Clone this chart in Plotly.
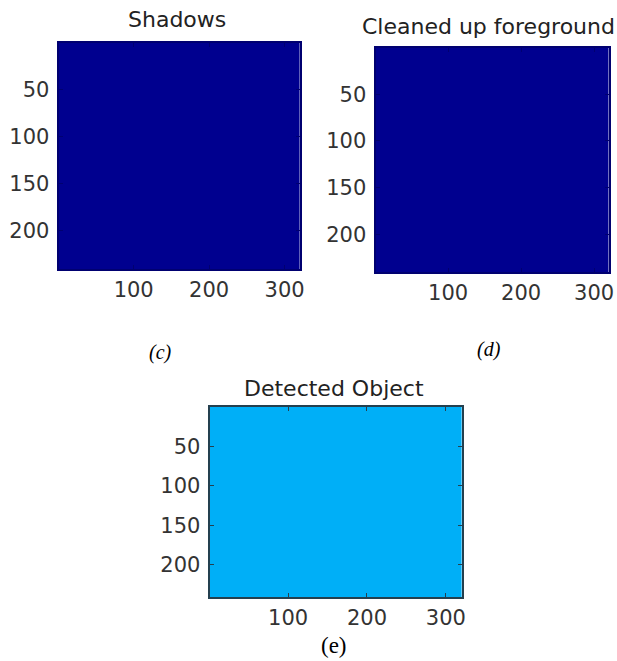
import plotly.graph_objects as go

# image size (pixels) shown in each panel
IMAGE_WIDTH = 320
IMAGE_HEIGHT = 240

# panel titles and the constant value of each mask
panel_titles = ["Shadows", "Cleaned up foreground", "Detected Object"]
panel_values = [0.0, 0.0, 0.36]
panel_labels = ["<i>(c)</i>", "<i>(d)</i>", "(e)"]

x_ticks = [100, 200, 300]
y_ticks = [50, 100, 150, 200]

# jet-like colour scale (MATLAB default)
JET = [
    [0.0, "#00008F"], [0.125, "#0000FF"], [0.375, "#00BAF6"],
    [0.625, "#FFFF00"], [0.875, "#FF0000"], [1.0, "#800000"],
]

W, H = 617, 661


def px_domain(x0, x1, y0, y1):
    """Pixel box -> paper domains."""
    return [x0 / W, x1 / W], [1 - y1 / H, 1 - y0 / H]


def px_point(x, y):
    return x / W, 1 - y / H


boxes = [(59, 302, 43, 269), (378, 613, 48, 272), (211, 465, 407, 597)]
frame_colors = ["#000070", "#000070", "#24404f"]
title_pos = [(178, 20), (492, 26), (336, 388)]
label_pos = [(162, 352), (492, 350), (336, 645)]

fig = go.Figure()
tick_font = dict(family="DejaVu Sans", size=21, color="#333333")

for i, title in enumerate(panel_titles):
    suffix = "" if i == 0 else str(i + 1)
    xd, yd = px_domain(*boxes[i])
    fig.add_trace(go.Heatmap(
        z=[[panel_values[i]]],
        x=[0.5, IMAGE_WIDTH + 0.5],
        y=[0.5, IMAGE_HEIGHT + 0.5],
        colorscale=JET, zmin=0, zmax=1, showscale=False, zsmooth="fast",
        xaxis="x" + suffix, yaxis="y" + suffix,
    ))
    axis_common = dict(
        showline=True, linecolor=frame_colors[i], linewidth=2, mirror="allticks",
        ticks="inside", ticklen=4, tickcolor=frame_colors[i],
        showgrid=False, zeroline=False, tickfont=tick_font, fixedrange=True,
    )
    fig.layout["xaxis" + suffix] = dict(
        domain=xd, range=[0.5, IMAGE_WIDTH + 0.5], tickvals=x_ticks,
        anchor="y" + suffix, ticklabelstandoff=1, **axis_common,
    )
    fig.layout["yaxis" + suffix] = dict(
        domain=yd, range=[IMAGE_HEIGHT + 0.5, 0.5], tickvals=y_ticks,
        anchor="x" + suffix, ticklabelstandoff=3, **axis_common,
    )
    tx, ty = px_point(*title_pos[i])
    fig.add_annotation(
        text=title, x=tx, y=ty, xref="paper", yref="paper",
        xanchor="center", yanchor="middle", showarrow=False,
        font=dict(family="DejaVu Sans", size=22, color="#222222"),
    )
    lx, ly = px_point(*label_pos[i])
    fig.add_annotation(
        text=panel_labels[i], x=lx, y=ly, xref="paper", yref="paper",
        xanchor="center", yanchor="middle", showarrow=False,
        font=dict(family="Liberation Serif", size=23 if i == 2 else 20, color="#000000"),
    )

fig.update_layout(
    width=W, height=H,
    margin=dict(l=0, r=0, t=0, b=0),
    paper_bgcolor="white", plot_bgcolor="white",
    showlegend=False,
)

# drop the default 8px page margin so the figure fills the window
fig.write_html(
    "out.html",
    config={"displayModeBar": False},
    post_script="document.body.style.margin = '0';",
)
